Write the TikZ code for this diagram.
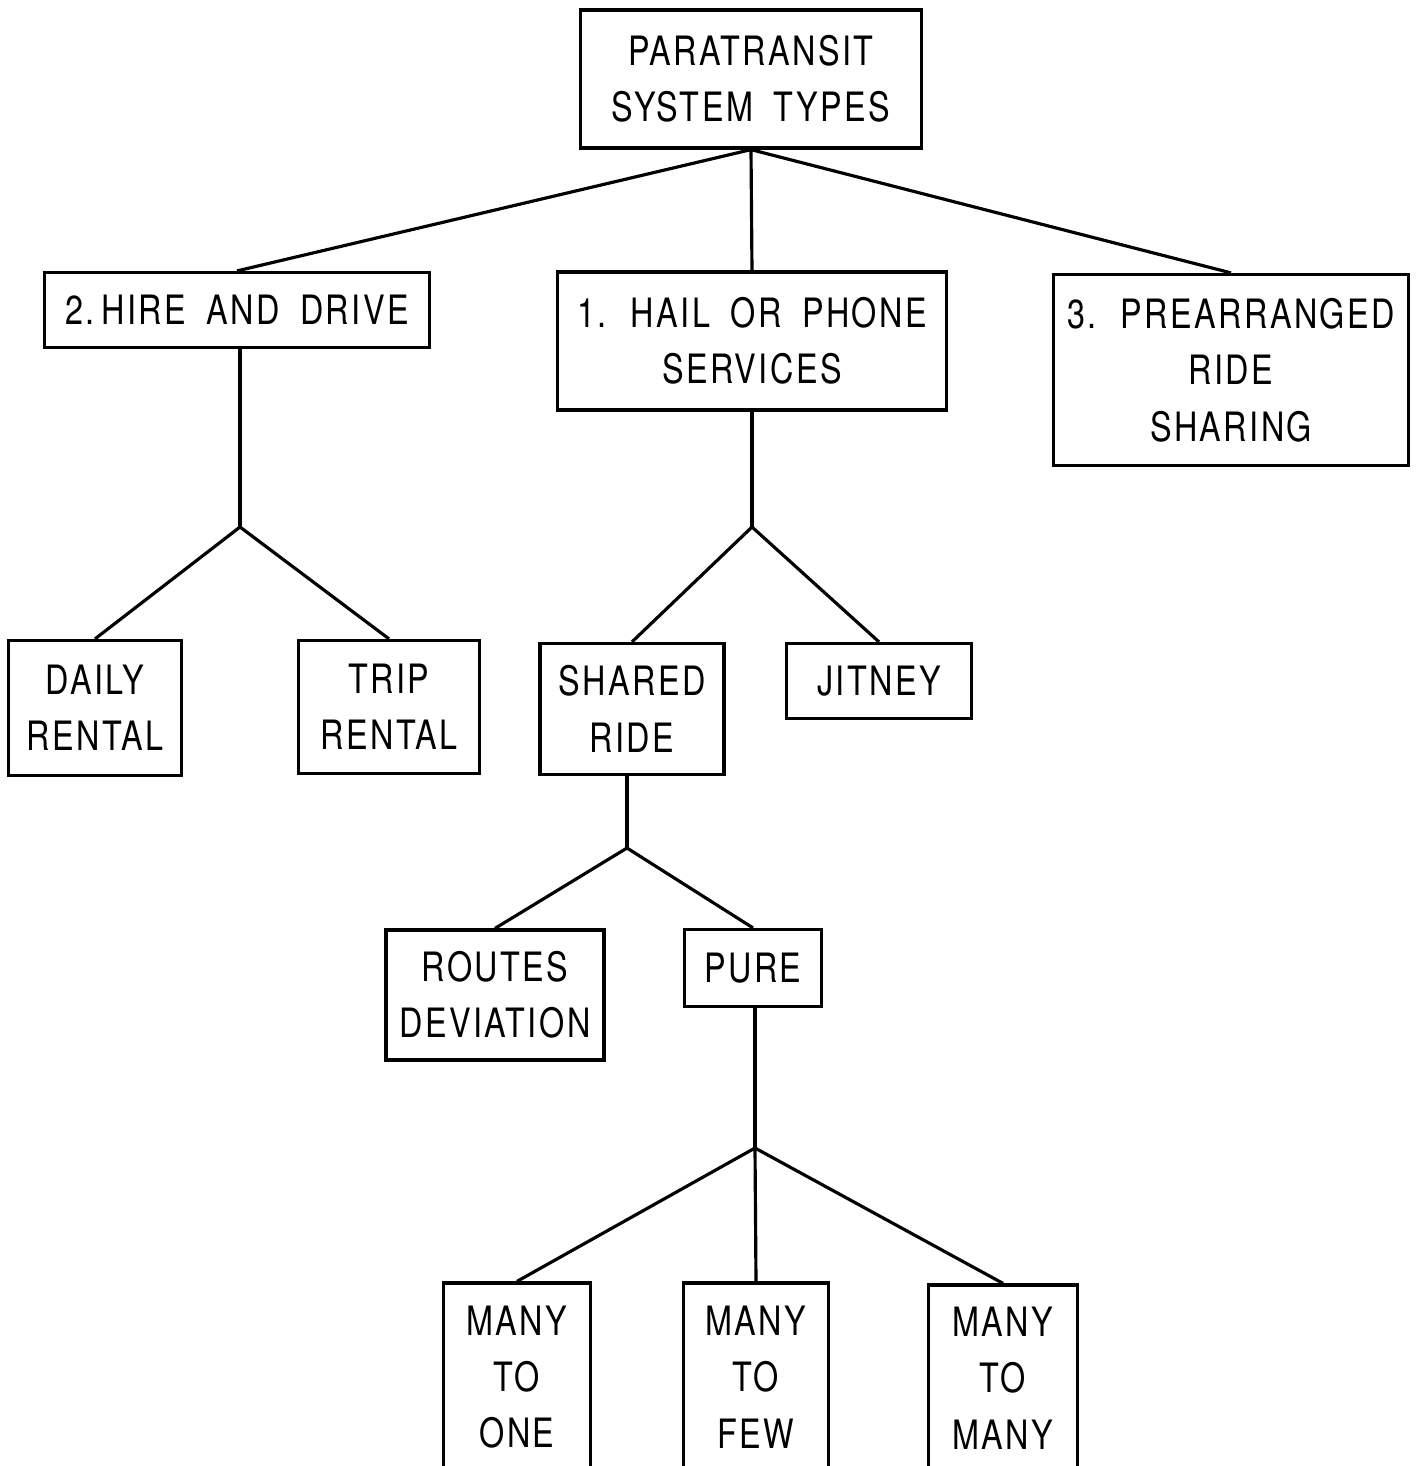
\documentclass[tikz,border=0pt]{standalone}
\usepackage{fontspec}
\setmainfont{TeX Gyre Heros}[FakeStretch=0.8,LetterSpace=6,WordSpace=1.8]
\begin{document}
\begin{tikzpicture}[x=0.01cm,y=-0.01cm,
    every node/.style={font=\fontsize{11.5}{16}\selectfont},
    typebox/.style={draw,line width=0.9pt,align=center,inner sep=0pt},
    link/.style={line width=0.9pt}]
  \clip (0,0) rectangle (1416,1466);
  % top of the tree
  \node[typebox,minimum width=3.41cm,minimum height=1.38cm] (root) at (751,79) {PARATRANSIT\\SYSTEM TYPES};
  \node[typebox,minimum width=3.85cm,minimum height=0.75cm] (hire) at (237,310) {2.\,HIRE AND DRIVE};
  \node[typebox,minimum width=3.88cm,minimum height=1.38cm] (hail) at (752,341) {1. HAIL OR PHONE\\SERVICES};
  \node[typebox,minimum width=3.54cm,minimum height=1.91cm] (ride) at (1231,370) {3. PREARRANGED\\RIDE\\SHARING};
  % second level
  \node[typebox,minimum width=1.73cm,minimum height=1.35cm] (daily) at (95,708) {DAILY\\RENTAL};
  \node[typebox,minimum width=1.81cm,minimum height=1.33cm] (trip) at (389,707) {TRIP\\RENTAL};
  \node[typebox,minimum width=1.84cm,minimum height=1.31cm] (shared) at (632,709) {SHARED\\RIDE};
  \node[typebox,minimum width=1.85cm,minimum height=0.75cm] (jitney) at (879,681) {JITNEY};
  % third level
  \node[typebox,minimum width=2.18cm,minimum height=1.30cm] (routes) at (495,995) {ROUTES\\DEVIATION};
  \node[typebox,minimum width=1.37cm,minimum height=0.77cm] (pure) at (753,968) {PURE};
  % bottom row, cut by the page edge
  \node[typebox,minimum width=1.47cm,minimum height=1.88cm] (one) at (517,1377) {MANY\\TO\\ONE};
  \node[typebox,minimum width=1.45cm,minimum height=1.88cm] (few) at (756,1377) {MANY\\TO\\FEW};
  \node[typebox,minimum width=1.49cm,minimum height=1.86cm] (many) at (1003,1378) {MANY\\TO\\MANY};
  % junctions
  \coordinate (jhire) at (240,527);
  \coordinate (jhail) at (752,527);
  \coordinate (jshared) at (627,848);
  \coordinate (jpure) at (755,1148);
  % connectors
  \foreach \c in {hire,hail,ride}
    \draw[link] (root.south) -- (\c.north);
  \draw[link] (hire.south -| jhire) -- (jhire);
  \foreach \c in {daily,trip}
    \draw[link] (jhire) -- (\c.north);
  \draw[link] (hail.south) -- (jhail);
  \foreach \c in {shared,jitney}
    \draw[link] (jhail) -- (\c.north);
  \draw[link] (shared.south -| jshared) -- (jshared);
  \foreach \c in {routes,pure}
    \draw[link] (jshared) -- (\c.north);
  \draw[link] (pure.south -| jpure) -- (jpure);
  \foreach \c in {one,few,many}
    \draw[link] (jpure) -- (\c.north);
\end{tikzpicture}
\end{document}
